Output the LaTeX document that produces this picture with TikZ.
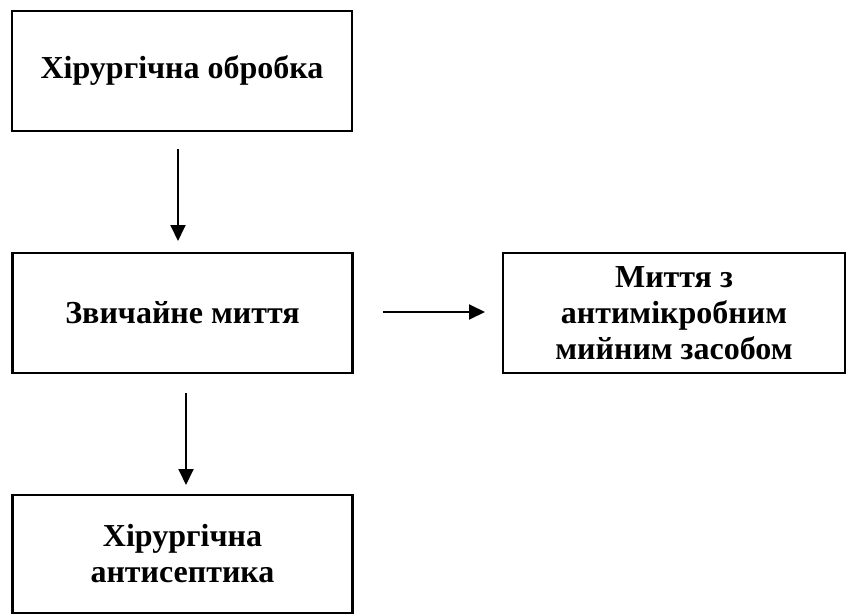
\documentclass[tikz,border=0pt]{standalone}
\usepackage{fontspec}
\setmainfont{Liberation Serif}
\usetikzlibrary{arrows.meta}
\begin{document}
\begin{tikzpicture}[x=1pt,y=-1pt,
  box/.style={draw, line width=2.8pt, minimum width=340pt, minimum height=120pt, inner sep=0pt, align=center, font=\fontsize{32}{36}\selectfont\bfseries},
  arr/.style={line width=1.9pt, -{Triangle[length=16pt,width=15pt]}}]
\useasboundingbox (0,0) rectangle (852,615);
\node[box] (b1) at (182,71) {Хірургічна обробка};
\node[box] (b2) at (182.5,313) {Звичайне миття};
\node[box, minimum width=342pt] (b3) at (674,313) {Миття з\\антимікробним\\мийним засобом};
\node[box, minimum height=118pt] (b4) at (182.5,554) {Хірургічна\\антисептика};
\coordinate (a1s) at (178,149);
\coordinate (a1e) at (178,241);
\coordinate (a2s) at (383,312);
\coordinate (a2e) at (485,312);
\coordinate (a3s) at (186,393);
\coordinate (a3e) at (186,485);
\draw[arr] (a1s) -- (a1e);
\draw[arr] (a2s) -- (a2e);
\draw[arr] (a3s) -- (a3e);
\end{tikzpicture}
\end{document}
